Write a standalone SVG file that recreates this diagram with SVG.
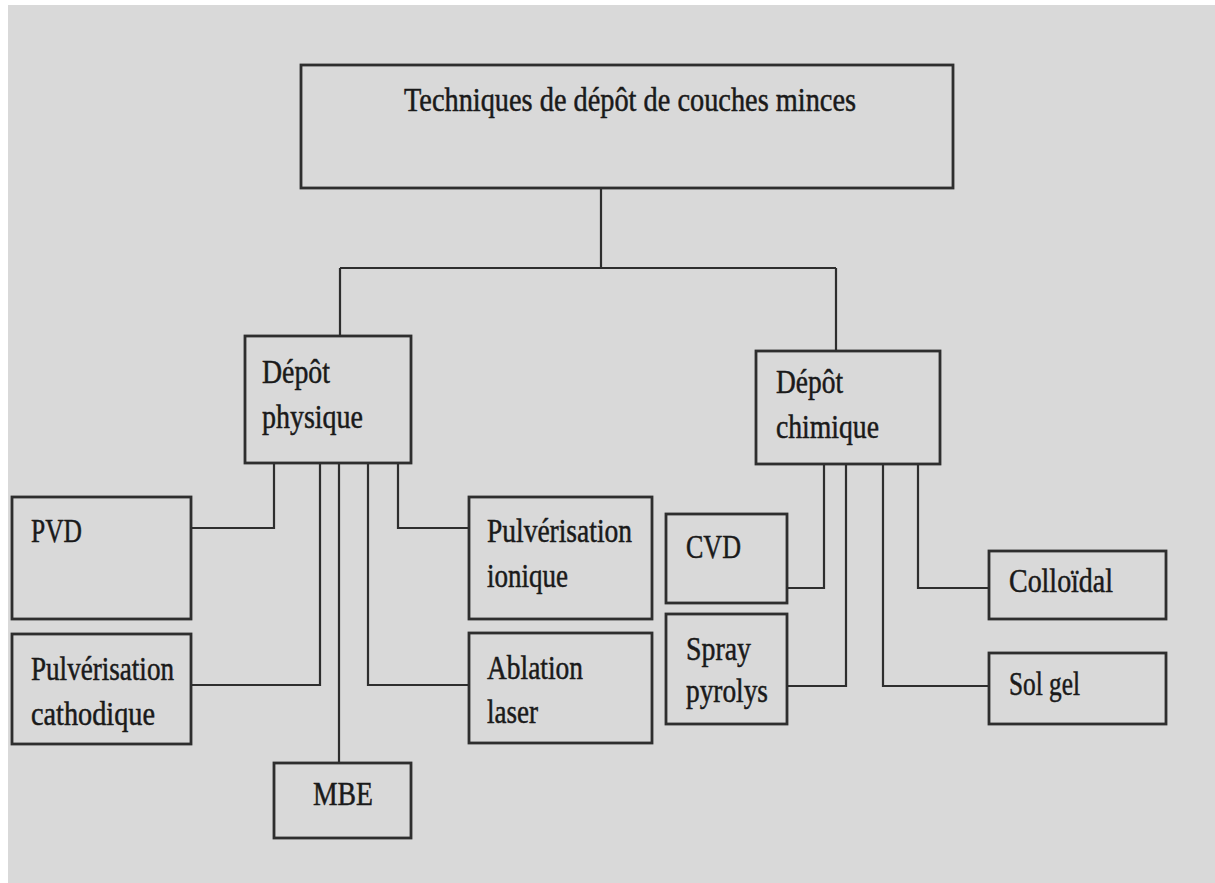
<svg xmlns="http://www.w3.org/2000/svg" width="1215" height="883" viewBox="0 0 1215 883">
<style>
.bg{fill:#d9d9d9}
.box{fill:#d9d9d9;stroke:#2e2e2e;stroke-width:2.8}
.con{fill:none;stroke:#2e2e2e;stroke-width:2.2}
text{font-family:"Liberation Serif","DejaVu Serif",serif;font-size:33px;fill:#1a1a1a;stroke:#1a1a1a;stroke-width:0.5}
</style>
<rect x="0" y="0" width="1215" height="883" fill="#ffffff"/>
<rect class="bg" x="8" y="5" width="1207" height="878"/>
<g id="connectors">
<path class="con" d="M601,188 V268 M340,268 H836 M340,268 V336 M836,268 V350"/>
<path class="con" d="M274,463 V528 H191"/>
<path class="con" d="M320,463 V685 H191"/>
<path class="con" d="M339,463 V763"/>
<path class="con" d="M368,463 V685 H469"/>
<path class="con" d="M398,463 V528 H469"/>
<path class="con" d="M824,463 V588 H787"/>
<path class="con" d="M846,463 V686 H787"/>
<path class="con" d="M883,463 V686 H989"/>
<path class="con" d="M918,463 V588 H989"/>
</g>
<g id="root">
<rect class="box" x="301" y="65" width="652" height="123"/>
<text x="404" y="111" textLength="452" lengthAdjust="spacingAndGlyphs">Techniques de dépôt de couches minces</text>
</g>
<g id="physique">
<rect class="box" x="245" y="336" width="166" height="127"/>
<text x="262" y="383" textLength="68" lengthAdjust="spacingAndGlyphs">Dépôt</text>
<text x="262" y="428" textLength="101" lengthAdjust="spacingAndGlyphs">physique</text>
</g>
<g id="chimique">
<rect class="box" x="756" y="351" width="184" height="113"/>
<text x="776" y="393" textLength="67" lengthAdjust="spacingAndGlyphs">Dépôt</text>
<text x="776" y="438" textLength="103" lengthAdjust="spacingAndGlyphs">chimique</text>
</g>
<g id="pvd">
<rect class="box" x="12" y="497" width="179" height="122"/>
<text x="31" y="542" textLength="51" lengthAdjust="spacingAndGlyphs">PVD</text>
</g>
<g id="pulv-cathodique">
<rect class="box" x="12" y="634" width="179" height="110"/>
<text x="31" y="680" textLength="143" lengthAdjust="spacingAndGlyphs">Pulvérisation</text>
<text x="31" y="725" textLength="124" lengthAdjust="spacingAndGlyphs">cathodique</text>
</g>
<g id="mbe">
<rect class="box" x="274" y="763" width="137" height="75"/>
<text x="313" y="805" textLength="60" lengthAdjust="spacingAndGlyphs">MBE</text>
</g>
<g id="pulv-ionique">
<rect class="box" x="469" y="497" width="183" height="122"/>
<text x="487" y="542" textLength="145" lengthAdjust="spacingAndGlyphs">Pulvérisation</text>
<text x="487" y="587" textLength="81" lengthAdjust="spacingAndGlyphs">ionique</text>
</g>
<g id="ablation">
<rect class="box" x="469" y="633" width="183" height="110"/>
<text x="487" y="679" textLength="96" lengthAdjust="spacingAndGlyphs">Ablation</text>
<text x="487" y="723" textLength="51" lengthAdjust="spacingAndGlyphs">laser</text>
</g>
<g id="cvd">
<rect class="box" x="666" y="514" width="121" height="89"/>
<text x="686" y="558" textLength="55" lengthAdjust="spacingAndGlyphs">CVD</text>
</g>
<g id="spray">
<rect class="box" x="666" y="614" width="121" height="110"/>
<text x="686" y="660" textLength="65" lengthAdjust="spacingAndGlyphs">Spray</text>
<text x="686" y="702" textLength="82" lengthAdjust="spacingAndGlyphs">pyrolys</text>
</g>
<g id="colloidal">
<rect class="box" x="989" y="551" width="177" height="68"/>
<text x="1009" y="592" textLength="104" lengthAdjust="spacingAndGlyphs">Colloïdal</text>
</g>
<g id="solgel">
<rect class="box" x="989" y="653" width="177" height="71"/>
<text x="1009" y="695" textLength="71" lengthAdjust="spacingAndGlyphs">Sol gel</text>
</g>
</svg>
